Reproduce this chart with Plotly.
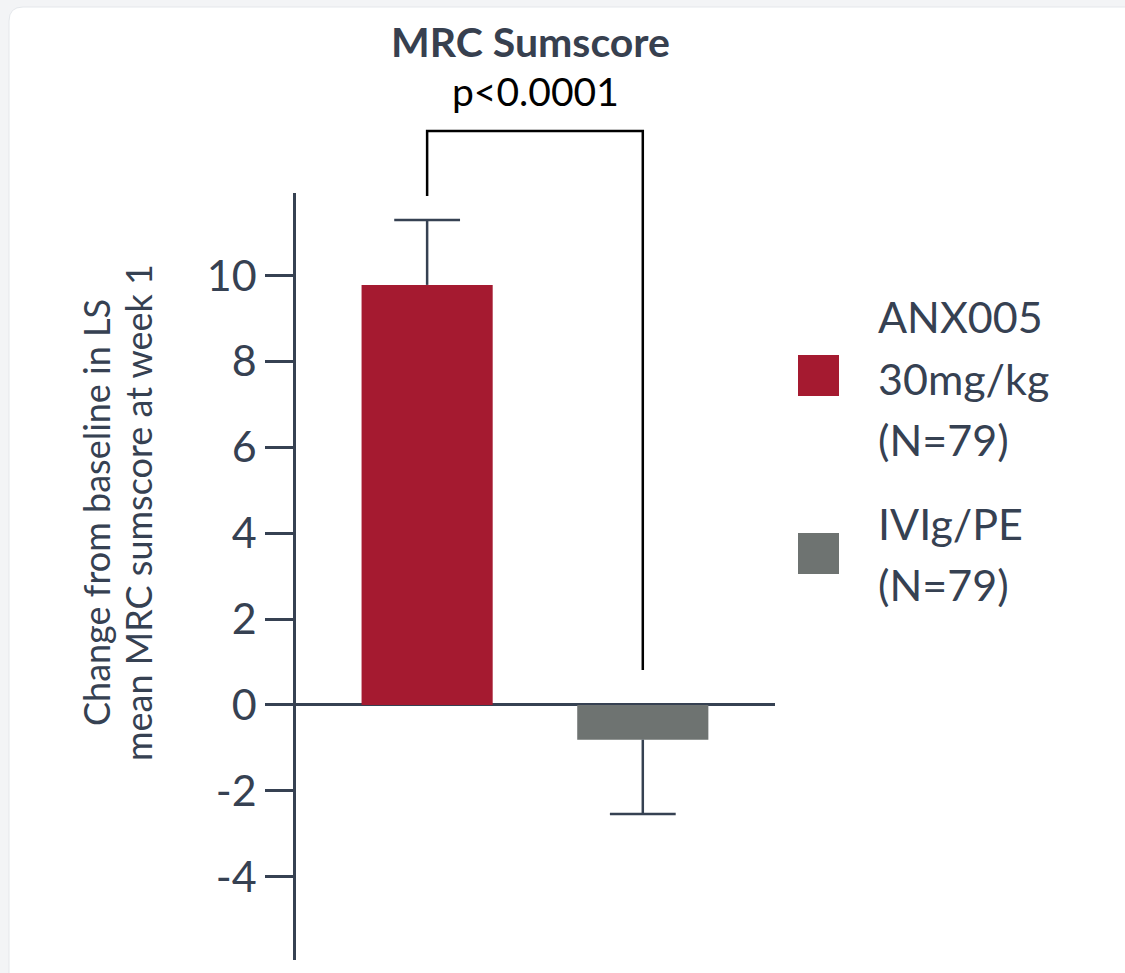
import plotly.graph_objects as go

# ---- data ----
groups = ["ANX005 30mg/kg (N=79)", "IVIg/PE (N=79)"]
legend_lines = [["ANX005", "30mg/kg", "(N=79)"], ["IVIg/PE", "(N=79)"]]
means = [9.78, -0.81]
err_up = [1.51, 0.0]
err_down = [0.0, 1.73]
tick_vals = [-4, -2, 0, 2, 4, 6, 8, 10]
tick_text = ["-4", "-2", "0", "2", "4", "6", "8", "10"]
title_text = "MRC Sumscore"
pvalue_text = "p<0.0001"
ytitle_lines = ["Change from baseline in LS", "mean MRC sumscore at week 1"]

bar_colors = ["#A51A30", "#6E7371"]
INK = "#364152"
FONT = "Lato"

W, H = 1125, 973
L, R, T, B = 296, 775, 193, 960   # plot area in pixels
x_range = [-0.608, 1.613]
y_range = [-5.94, 11.92]

def px(x):
    return (x - L) / (R - L)

def py(y):
    return (B - y) / (B - T)

def xdata_to_paper(v):
    return (v - x_range[0]) / (x_range[1] - x_range[0])

xs = list(range(len(groups)))

fig = go.Figure()
fig.add_trace(go.Bar(
    x=xs, y=means, width=0.608,
    marker=dict(color=bar_colors, line=dict(width=0)),
    error_y=dict(type="data", symmetric=False, array=err_up, arrayminus=err_down,
                 width=0, thickness=2.5, color=INK),
    hoverinfo="skip", showlegend=False,
))
cap_y = [m + u if m >= 0 else m - d for m, u, d in zip(means, err_up, err_down)]
fig.add_trace(go.Scatter(
    x=xs, y=cap_y, mode="markers",
    marker=dict(symbol="line-ew", size=47, line=dict(width=2.5, color=INK)),
    hoverinfo="skip", showlegend=False, cliponaxis=False,
))

shapes = []
# card background
cx0, cy0, cx1, cy1, r = 9, 7, 1160, 1010, 14
path = (f"M {px(cx0)},{py(cy0 + r)} Q {px(cx0)},{py(cy0)} {px(cx0 + r)},{py(cy0)} "
        f"L {px(cx1)},{py(cy0)} L {px(cx1)},{py(cy1)} L {px(cx0)},{py(cy1)} Z")
shapes.append(dict(type="path", xref="paper", yref="paper", path=path,
                   fillcolor="white", line=dict(color="#e4e7eb", width=1), layer="below"))

# significance bracket
bx0, bx1 = xdata_to_paper(xs[0]), xdata_to_paper(xs[1])
btop = py(131)
bl = py(196)
br = py(670)
shapes.append(dict(type="path", xref="paper", yref="paper",
                   path=f"M {bx0},{bl} L {bx0},{btop} L {bx1},{btop} L {bx1},{br}",
                   line=dict(color="black", width=2.5)))

# legend squares
sq_tops = [355, 533]
for c, top in zip(bar_colors, sq_tops):
    shapes.append(dict(type="rect", xref="paper", yref="paper",
                       x0=px(798), x1=px(839), y0=py(top), y1=py(top + 41),
                       fillcolor=c, line=dict(width=0)))

annotations = []
annotations.append(dict(text=f"<b>{title_text}</b>", x=px(530), y=py(41), xref="paper", yref="paper",
                        showarrow=False, xanchor="center", yanchor="middle",
                        font=dict(family=FONT, size=41, color="#37404f")))
annotations.append(dict(text=pvalue_text, x=px(535), y=py(91), xref="paper", yref="paper",
                        showarrow=False, xanchor="center", yanchor="middle",
                        font=dict(family=FONT, size=39, color="black")))
for line, cxp in zip(ytitle_lines, [96, 138]):
    annotations.append(dict(text=line, x=px(cxp), y=py(513), xref="paper", yref="paper",
                            showarrow=False, xanchor="center", yanchor="middle", textangle=-90,
                            font=dict(family=FONT, size=36, color=INK)))

legend_first_baselines = [332, 538]
for lines, base in zip(legend_lines, legend_first_baselines):
    for k, line in enumerate(lines):
        annotations.append(dict(text=line, x=px(876), y=py(base + 61 * k - 15), xref="paper", yref="paper",
                                showarrow=False, xanchor="left", yanchor="middle",
                                font=dict(family=FONT, size=43, color=INK)))

fig.update_layout(
    width=W, height=H,
    margin=dict(l=L, r=W - R, t=T, b=H - B, pad=0),
    paper_bgcolor="#f3f4f6", plot_bgcolor="rgba(0,0,0,0)",
    font=dict(family=FONT, color=INK),
    xaxis=dict(range=x_range, visible=False, fixedrange=True),
    yaxis=dict(range=y_range, tickvals=tick_vals, ticktext=tick_text,
               showline=True, linecolor=INK, linewidth=2.5,
               ticks="outside", ticklen=28, tickwidth=2.5, tickcolor=INK,
               showgrid=False, zeroline=True, zerolinecolor=INK, zerolinewidth=2.5,
               tickfont=dict(family=FONT, size=43, color=INK), fixedrange=True),
    shapes=shapes, annotations=annotations, showlegend=False,
)

fig.write_html("out.html", post_script="document.body.style.margin='0';",
               config={"displayModeBar": False})
